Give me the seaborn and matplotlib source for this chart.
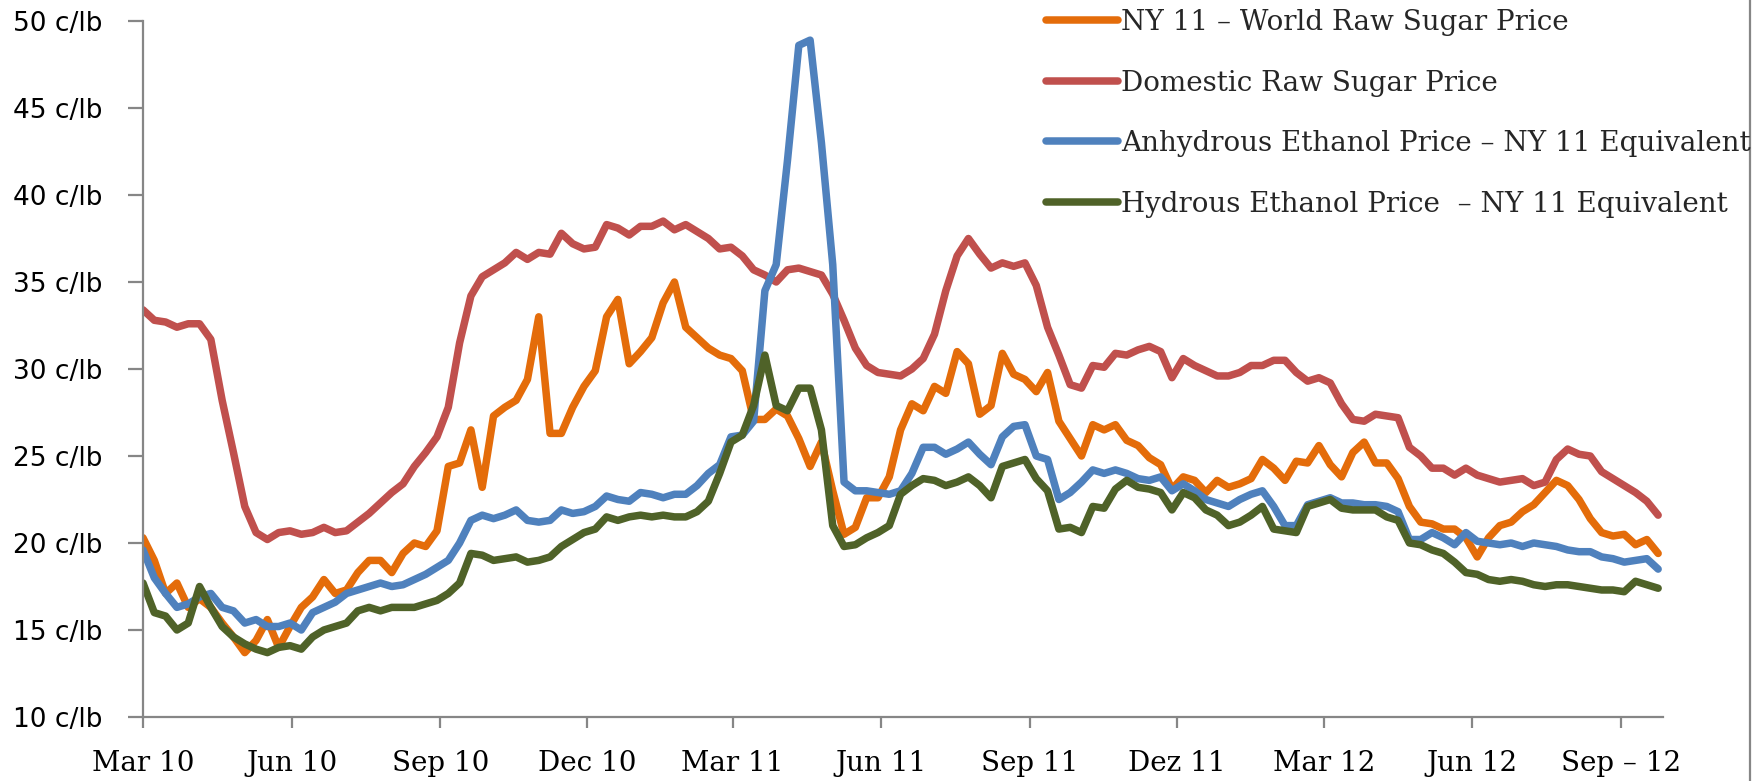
import numpy as np
import pandas as pd
import matplotlib
matplotlib.use("Agg")
import matplotlib.pyplot as plt
from matplotlib.lines import Line2D
import seaborn as sns

start_date = "2010-03-01"
series_names = [
    "NY 11 – World Raw Sugar Price",
    "Domestic Raw Sugar Price",
    "Anhydrous Ethanol Price – NY 11 Equivalent",
    "Hydrous Ethanol Price  – NY 11 Equivalent",
]
series_colors = ["#E46C0A", "#C0504D", "#4F81BD", "#4F6228"]

ny11_world = [
    20.3, 19.0, 17.1, 17.7, 16.3, 16.8, 16.3, 15.4, 14.6, 13.7, 14.4, 15.6, 14.0, 15.2, 16.3, 16.9, 17.9, 17.1, 17.3, 18.3, 19.0, 19.0, 18.3,
    19.4, 20.0, 19.8, 20.7, 24.4, 24.6, 26.5, 23.2, 27.3, 27.8, 28.2, 29.4, 33.0, 26.3, 26.3, 27.8, 29.0, 29.9, 33.0, 34.0, 30.3, 31.0,
    31.8, 33.8, 35.0, 32.4, 31.8, 31.2, 30.8, 30.6, 29.9, 27.1, 27.1, 27.7, 27.3, 26.0, 24.4, 25.8, 23.0, 20.5, 20.9, 22.6, 22.6, 23.8, 26.5,
    28.0, 27.6, 29.0, 28.6, 31.0, 30.3, 27.4, 27.9, 30.9, 29.7, 29.4, 28.7, 29.8, 27.0, 26.0, 25.0, 26.8, 26.5, 26.8, 25.9, 25.6, 24.9,
    24.5, 23.1, 23.8, 23.6, 22.9, 23.6, 23.2, 23.4, 23.7, 24.8, 24.3, 23.6, 24.7, 24.6, 25.6, 24.5, 23.8, 25.2, 25.8, 24.6, 24.6, 23.7,
    22.1, 21.2, 21.1, 20.8, 20.8, 20.3, 19.2, 20.3, 21.0, 21.2, 21.8, 22.2, 22.9, 23.6, 23.3, 22.5, 21.4, 20.6, 20.4, 20.5, 19.9, 20.2, 19.4,
]
domestic_raw = [
    33.4, 32.8, 32.7, 32.4, 32.6, 32.6, 31.7, 28.2, 25.2, 22.1, 20.6, 20.2, 20.6, 20.7, 20.5, 20.6, 20.9, 20.6, 20.7, 21.2, 21.7, 22.3, 22.9,
    23.4, 24.4, 25.2, 26.1, 27.8, 31.5, 34.2, 35.3, 35.7, 36.1, 36.7, 36.3, 36.7, 36.6, 37.8, 37.2, 36.9, 37.0, 38.3, 38.1, 37.7, 38.2,
    38.2, 38.5, 38.0, 38.3, 37.9, 37.5, 36.9, 37.0, 36.5, 35.7, 35.4, 35.0, 35.7, 35.8, 35.6, 35.4, 34.3, 32.8, 31.2, 30.2, 29.8, 29.7, 29.6,
    30.0, 30.6, 32.0, 34.5, 36.5, 37.5, 36.6, 35.8, 36.1, 35.9, 36.1, 34.8, 32.4, 30.8, 29.1, 28.9, 30.2, 30.1, 30.9, 30.8, 31.1, 31.3,
    31.0, 29.5, 30.6, 30.2, 29.9, 29.6, 29.6, 29.8, 30.2, 30.2, 30.5, 30.5, 29.8, 29.3, 29.5, 29.2, 28.0, 27.1, 27.0, 27.4, 27.3, 27.2,
    25.5, 25.0, 24.3, 24.3, 23.9, 24.3, 23.9, 23.7, 23.5, 23.6, 23.7, 23.3, 23.5, 24.8, 25.4, 25.1, 25.0, 24.1, 23.7, 23.3, 22.9, 22.4, 21.6,
]
anhydrous_eq = [
    19.6, 18.0, 17.1, 16.3, 16.5, 16.9, 17.1, 16.3, 16.1, 15.4, 15.6, 15.2, 15.2, 15.4, 15.0, 16.0, 16.3, 16.6, 17.1, 17.3, 17.5, 17.7, 17.5,
    17.6, 17.9, 18.2, 18.6, 19.0, 20.0, 21.3, 21.6, 21.4, 21.6, 21.9, 21.3, 21.2, 21.3, 21.9, 21.7, 21.8, 22.1, 22.7, 22.5, 22.4, 22.9,
    22.8, 22.6, 22.8, 22.8, 23.3, 24.0, 24.5, 26.1, 26.2, 27.0, 34.5, 36.0, 42.0, 48.6, 48.9, 43.0, 36.0, 23.5, 23.0, 23.0, 22.9, 22.8, 23.0,
    24.0, 25.5, 25.5, 25.1, 25.4, 25.8, 25.1, 24.5, 26.1, 26.7, 26.8, 25.0, 24.8, 22.5, 22.9, 23.5, 24.2, 24.0, 24.2, 24.0, 23.7, 23.6,
    23.8, 23.0, 23.4, 23.0, 22.5, 22.3, 22.1, 22.5, 22.8, 23.0, 22.1, 21.0, 21.0, 22.2, 22.4, 22.6, 22.3, 22.3, 22.2, 22.2, 22.1, 21.8,
    20.2, 20.2, 20.6, 20.3, 19.9, 20.6, 20.1, 20.0, 19.9, 20.0, 19.8, 20.0, 19.9, 19.8, 19.6, 19.5, 19.5, 19.2, 19.1, 18.9, 19.0, 19.1, 18.5,
]
hydrous_eq = [
    17.7, 16.0, 15.8, 15.0, 15.4, 17.5, 16.3, 15.2, 14.6, 14.2, 13.9, 13.7, 14.0, 14.1, 13.9, 14.6, 15.0, 15.2, 15.4, 16.1, 16.3, 16.1, 16.3,
    16.3, 16.3, 16.5, 16.7, 17.1, 17.7, 19.4, 19.3, 19.0, 19.1, 19.2, 18.9, 19.0, 19.2, 19.8, 20.2, 20.6, 20.8, 21.5, 21.3, 21.5, 21.6,
    21.5, 21.6, 21.5, 21.5, 21.8, 22.4, 24.0, 25.8, 26.2, 27.9, 30.8, 27.9, 27.6, 28.9, 28.9, 26.5, 21.0, 19.8, 19.9, 20.3, 20.6, 21.0, 22.8,
    23.3, 23.7, 23.6, 23.3, 23.5, 23.8, 23.3, 22.6, 24.4, 24.6, 24.8, 23.7, 23.0, 20.8, 20.9, 20.6, 22.1, 22.0, 23.1, 23.6, 23.2, 23.1,
    22.9, 21.9, 22.9, 22.6, 21.9, 21.6, 21.0, 21.2, 21.6, 22.1, 20.8, 20.7, 20.6, 22.1, 22.3, 22.5, 22.0, 21.9, 21.9, 21.9, 21.5, 21.3,
    20.0, 19.9, 19.6, 19.4, 18.9, 18.3, 18.2, 17.9, 17.8, 17.9, 17.8, 17.6, 17.5, 17.6, 17.6, 17.5, 17.4, 17.3, 17.3, 17.2, 17.8, 17.6, 17.4,
]

xtick_dates = ["2010-03-01", "2010-06-01", "2010-09-01", "2010-12-01", "2011-03-01", "2011-06-01",
               "2011-09-01", "2011-12-01", "2012-03-01", "2012-06-01", "2012-09-01"]
xtick_labels = ["Mar 10", "Jun 10", "Sep 10", "Dec 10", "Mar 11", "Jun 11",
                "Sep 11", "Dez 11", "Mar 12", "Jun 12", "Sep – 12"]
ytick_values = [10, 15, 20, 25, 30, 35, 40, 45, 50]
ytick_labels = ["10 c/lb", "15 c/lb", "20 c/lb", "25 c/lb", "30 c/lb", "35 c/lb", "40 c/lb", "45 c/lb", "50 c/lb"]

# ---------------- build long-form frame ----------------
dates = pd.date_range(start=start_date, periods=len(ny11_world), freq="7D")
frames = []
for name, vals in zip(series_names, [ny11_world, domestic_raw, anhydrous_eq, hydrous_eq]):
    frames.append(pd.DataFrame({"date": dates, "price": vals, "series": name}))
df = pd.concat(frames, ignore_index=True)

# ---------------- style ----------------
sns.set_theme(style="white")
plt.rcParams["font.family"] = ["DejaVu Sans"]
axis_grey = "#868686"
LW = 5.4

fig = plt.figure(figsize=(17.64, 7.81), dpi=100)
W, H = 1764, 781
ax = fig.add_axes([143 / W, 1 - 717 / H, (1663 - 143) / W, (717 - 21) / H])

sns.lineplot(data=df, x="date", y="price", hue="series", hue_order=series_names,
             palette=series_colors, linewidth=LW, estimator=None, sort=False,
             legend=False, ax=ax)
for ln in ax.lines:
    ln.set_solid_capstyle("round")
    ln.set_solid_joinstyle("round")

ax.set_xlim(pd.Timestamp("2010-03-01"), pd.Timestamp("2012-09-27"))
ax.set_ylim(10, 50)
ax.set_xlabel("")
ax.set_ylabel("")

ax.set_yticks(ytick_values)
ax.set_yticklabels(ytick_labels, fontsize=19, family=["DejaVu Sans"], color="black")
ax.set_xticks(pd.to_datetime(xtick_dates))
ax.set_xticklabels(xtick_labels, fontsize=20, family=["DejaVu Serif"], color="black")

ax.tick_params(axis="y", direction="out", length=11, width=1.6, color=axis_grey, pad=18, left=True)
ax.tick_params(axis="x", direction="out", length=8, width=1.6, color=axis_grey, pad=16, bottom=True)

for s in ["top", "right"]:
    ax.spines[s].set_visible(False)
for s in ["left", "bottom"]:
    ax.spines[s].set_color(axis_grey)
    ax.spines[s].set_linewidth(1.6)
ax.grid(False)

# legend
handles = [Line2D([0], [0], color=c, lw=LW, solid_capstyle="round") for c in series_colors]
fig.legend(handles, series_names, loc="upper left", bbox_to_anchor=(1046 / W, 1 - 9 / H),
           frameon=False, prop={"family": "DejaVu Serif", "size": 20},
           handlelength=2.6, handletextpad=0.1, labelspacing=1.21,
           borderpad=0, borderaxespad=0)

# right border of the chart area
fig.add_artist(Line2D([1750 / W, 1750 / W], [0, 1], transform=fig.transFigure,
                      color=axis_grey, lw=1.6))

fig.savefig("out.png", dpi=100)
